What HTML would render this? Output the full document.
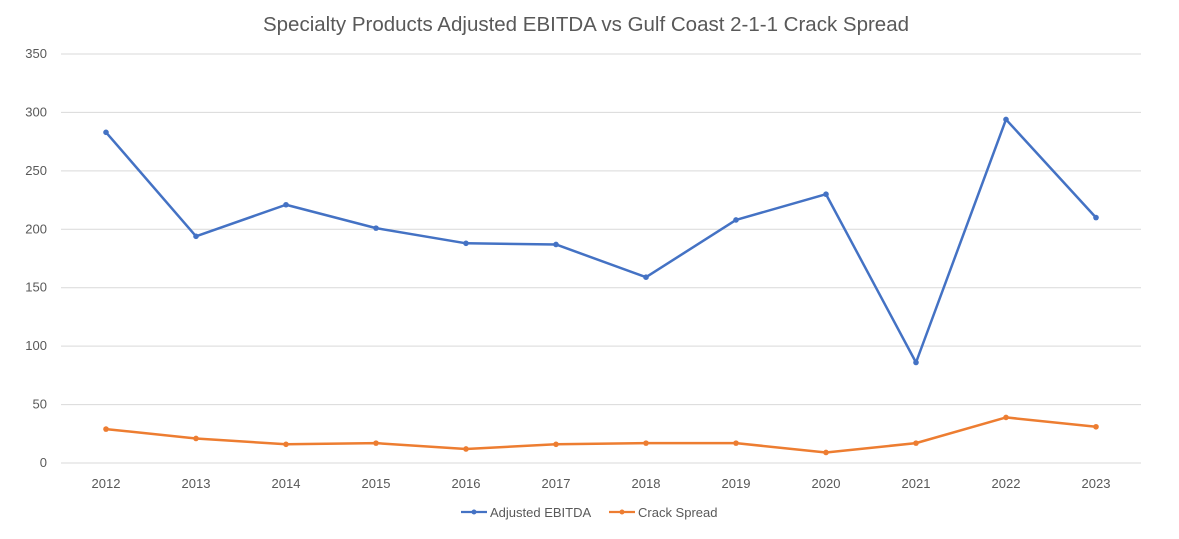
<!DOCTYPE html>
<html><head><meta charset="utf-8"><style>
body{margin:0;background:#fff;font-family:"Liberation Sans",sans-serif;}
svg{display:block}
</style></head><body>
<svg id="chart" width="1179" height="539">
<text x="586" y="31" text-anchor="middle" font-size="20.5" fill="#595959">Specialty Products Adjusted EBITDA vs Gulf Coast 2-1-1 Crack Spread</text>
<g id="grid"></g><g id="xlabels"></g><g id="series"></g>
<g>
<g>
<line x1="461" y1="512" x2="487" y2="512" stroke="#4472C4" stroke-width="2.25"/><circle cx="474" cy="512" r="2.5" fill="#4472C4"/>
<text x="490" y="517" font-size="13" fill="#595959">Adjusted EBITDA</text></g>
<g>
<line x1="609" y1="512" x2="635" y2="512" stroke="#ED7D31" stroke-width="2.25"/><circle cx="622" cy="512" r="2.5" fill="#ED7D31"/>
<text x="638" y="517" font-size="13" fill="#595959">Crack Spread</text></g>
</g>
</svg>
<script>
const categories=["2012","2013","2014","2015","2016","2017","2018","2019","2020","2021","2022","2023"];
const ebitda=[283,194,221,201,188,187,159,208,230,86,294,210];
const crack=[29,21,16,17,12,16,17,17,9,17,39,31];
const yTicks=[0,50,100,150,200,250,300,350];
const NS="http://www.w3.org/2000/svg";
const plotLeft=61,plotRight=1141,plotTop=54,plotBottom=463,ymax=350;
const step=(plotRight-plotLeft)/categories.length;
const xs=i=>plotLeft+step*(i+0.5);
const ys=v=>plotBottom-(v/ymax)*(plotBottom-plotTop);
function mk(t,a,p){const e=document.createElementNS(NS,t);for(const k in a)e.setAttribute(k,a[k]);p.appendChild(e);return e;}
const grid=document.getElementById('grid');
yTicks.forEach(v=>{
 const l=mk('line',{x1:plotLeft,x2:plotRight,y1:ys(v),y2:ys(v),stroke:'#d9d9d9','stroke-width':1},grid);
 
 
 const t=mk('text',{x:47,y:ys(v)+4,'text-anchor':'end','font-size':13,fill:'#595959'},grid);
 t.textContent=v;
 
 
});
const xl=document.getElementById('xlabels');
categories.forEach((c,i)=>{
 const t=mk('text',{x:xs(i),y:488,'text-anchor':'middle','font-size':13,fill:'#595959'},xl);
 t.textContent=c;
 
 
});
const sg=document.getElementById('series');
[[ebitda,'#4472C4','adjusted-ebitda'],[crack,'#ED7D31','crack-spread']].forEach(([d,col,n])=>{
 const p=mk('polyline',{points:d.map((v,i)=>xs(i)+','+ys(v)).join(' '),fill:'none',stroke:col,'stroke-width':2.5,'stroke-linejoin':'round'},sg);
 
 
 d.forEach((v,i)=>{
  const c=mk('circle',{cx:xs(i),cy:ys(v),r:2.8,fill:col},sg);
  
  
 });
});
</script>
</body></html>
